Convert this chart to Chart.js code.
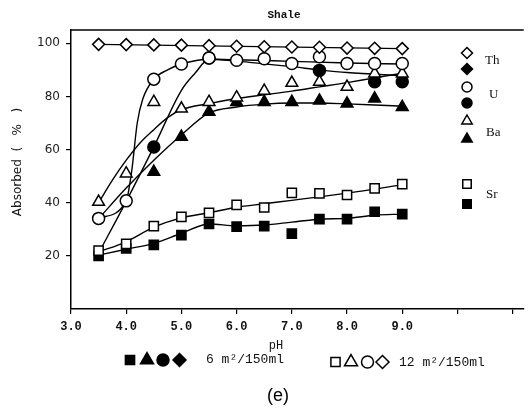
<!DOCTYPE html>
<html>
<head>
<meta charset="utf-8">
<script src="https://cdn.jsdelivr.net/npm/chart.js@4/dist/chart.umd.min.js"></script>
<style>
  html,body{margin:0;padding:0;background:#fff;}
  #wrap{position:relative;width:532px;height:408px;}
</style>
</head>
<body>
<div id="wrap"><canvas id="c" width="532" height="408"></canvas></div>
<script>
// ---- data ----
const pH = [3.5, 4.0, 4.5, 5.0, 5.5, 6.0, 6.5, 7.0, 7.5, 8.0, 8.5, 9.0];
const xTicks = [3, 4, 5, 6, 7, 8, 9, 10, 11];
const yTicks = [20, 40, 60, 80, 100];

// 12 m2/150ml (open symbols)
const Th12 = [99.6, 99.5, 99.4, 99.3, 99.1, 98.9, 98.7, 98.6, 98.5, 98.2, 98.1, 98.0];
const U12  = [34.1, 40.7, 86.5, 92.2, 94.5, 93.6, 94.2, 92.4, 94.9, 92.4, 92.4, 92.4];
const Ba12 = [40.3, 51.0, 77.9, 75.4, 77.9, 79.6, 82.1, 85.1, 85.5, 83.6, 88.6, 88.6];
const Sr12 = [22.0, 24.5, 31.2, 34.7, 36.2, 39.2, 38.2, 43.7, 43.5, 42.9, 45.4, 47.0];
// 6 m2/150ml (filled symbols)
const U6   = [null, null, 61.0, null, 94.5, null, null, null, 89.8, null, 85.5, 85.5];
const Ba6  = [null, null, 51.6, 64.8, 74.2, 77.9, 77.9, 77.9, 78.4, 77.3, 79.2, 76.0];
const Sr6  = [20.0, 22.8, 24.1, 27.8, 32.0, 31.0, 31.2, 28.4, 33.8, 33.8, 36.6, 35.7];

// fitted curves
const fitTh12_pH = [3.5, 9.0];
const fitTh12    = [99.6, 98.0];
const fitU12_pH  = [3.5, 4.0, 4.1, 4.2, 4.3, 4.5, 4.75, 5.0, 5.5, 6.0, 7.0, 8.0, 9.0];
const fitU12     = [34.1, 40.7, 52, 70, 79, 86.5, 90, 92.2, 94, 93.8, 93.2, 92.6, 92.2];
const fitU6_pH   = [3.5, 4.0, 4.5, 5.0, 5.25, 5.5, 6.0, 7.0, 7.5, 8.0, 9.0];
const fitU6      = [21, 40.5, 61, 82.3, 88.8, 94, 93.3, 91.2, 90, 89, 87.8];
const fitBa12_pH = [3.5, 3.75, 4.0, 4.25, 4.5, 4.75, 5.0, 5.5, 6.0, 6.5, 7.0, 7.5, 8.0, 8.5, 9.0];
const fitBa12    = [40, 48.5, 56, 62.5, 67.5, 72, 75, 77.3, 79.2, 80.6, 82, 83.6, 85.2, 87, 88.7];
const fitBa6_pH  = [3.5, 4.0, 4.5, 5.0, 5.5, 6.0, 6.5, 7.0, 7.5, 8.0, 8.5, 9.0];
const fitBa6     = [34, 45.5, 56, 65.5, 73.8, 76, 77.1, 77.5, 77.5, 77.2, 76.8, 76.3];
const fitSr12_pH = pH;
const fitSr12    = [21.5, 25.3, 30.8, 34.3, 36.2, 38.3, 39.6, 40.9, 42.2, 43.6, 45.1, 46.8];
const fitSr6_pH  = pH;
const fitSr6     = [20.3, 22.5, 24.7, 28.5, 32.0, 31.3, 31.6, 32.7, 33.8, 34.1, 35.3, 35.7];

// ---- helpers ----
const xy = (xs, ys) => xs.map((x, i) => ({x: x, y: ys[i]}));

function pts(values, style, radius, filled) {
  return {
    data: xy(pH, values), showLine: false, pointStyle: style, pointRadius: radius,
    pointBorderWidth: 1.5, pointBorderColor: '#000',
    pointBackgroundColor: filled ? '#000' : '#fff',
    borderColor: '#000', order: filled ? 2 : 1
  };
}
function fit(xs, ys) {
  return {
    data: xy(xs, ys), showLine: true, pointRadius: 0, borderColor: '#000',
    borderWidth: 1.4, fill: false, cubicInterpolationMode: 'monotone', order: 3
  };
}

function mark(ctx, style, x, y, r, filled) {
  ctx.save();
  ctx.beginPath();
  if (style === 'circle') {
    ctx.arc(x, y, r, 0, Math.PI * 2);
  } else if (style === 'triangle') {
    ctx.moveTo(x, y - r);
    ctx.lineTo(x + r * 0.866, y + r * 0.5);
    ctx.lineTo(x - r * 0.866, y + r * 0.5);
    ctx.closePath();
  } else if (style === 'rect') {
    const s = r * Math.SQRT1_2;
    ctx.rect(x - s, y - s, 2 * s, 2 * s);
  } else if (style === 'rectRot') {
    ctx.moveTo(x, y - r); ctx.lineTo(x + r, y); ctx.lineTo(x, y + r); ctx.lineTo(x - r, y);
    ctx.closePath();
  }
  ctx.fillStyle = filled ? '#000' : '#fff';
  ctx.fill();
  ctx.lineWidth = 1.5;
  ctx.strokeStyle = '#000';
  ctx.stroke();
  ctx.restore();
}

const annotate = {
  id: 'annotate',
  afterDraw(chart) {
    const ctx = chart.ctx;
    const a = chart.chartArea;
    ctx.save();
    // top frame line
    ctx.strokeStyle = '#000'; ctx.lineWidth = 1.5;
    ctx.beginPath(); ctx.moveTo(a.left, a.top); ctx.lineTo(a.right, a.top); ctx.stroke();

    ctx.fillStyle = '#111';
    ctx.textBaseline = 'middle';
    // title
    ctx.font = 'bold 11px "Liberation Mono"'; ctx.textAlign = 'center';
    ctx.fillText('Shale', 284, 15);
    // axis titles
    ctx.font = '12px "Liberation Mono"';
    ctx.fillText('pH', 276, 346);
    ctx.save();
    ctx.translate(18, 162); ctx.rotate(-Math.PI / 2);
    ctx.font = '12px "DejaVu Sans"';
    ctx.fillText('Absorbed  (   %   )', 0, 0);
    ctx.restore();
    // (e)
    ctx.font = '18px "Liberation Sans"'; ctx.fillStyle = '#000';
    ctx.fillText('(e)', 278, 396);

    // right legend
    const rl = [
      ['rectRot', 53, 5.5, false], ['rectRot', 69, 5.5, true],
      ['circle', 87, 5, false], ['circle', 103, 5, true],
      ['triangle', 121, 6, false], ['triangle', 139, 6, true],
      ['rect', 184, 6, false], ['rect', 204, 6, true]
    ];
    rl.forEach(m => mark(ctx, m[0], 467, m[1], m[2], m[3]));
    ctx.font = '13px "Liberation Serif"'; ctx.textAlign = 'left'; ctx.fillStyle = '#111';
    ctx.fillText('Th', 485, 61);
    ctx.fillText('U', 489, 95);
    ctx.fillText('Ba', 486, 133);
    ctx.fillText('Sr', 486, 195);

    // bottom legend
    const bf = [['rect', 130, 6.5], ['triangle', 147, 7.5], ['circle', 163, 6], ['rectRot', 179.5, 6.5]];
    bf.forEach(m => mark(ctx, m[0], m[1], 360, m[2], true));
    const bo = [['rect', 335.5, 6.5], ['triangle', 351, 7.5], ['circle', 367.5, 6], ['rectRot', 382.5, 6.5]];
    bo.forEach(m => mark(ctx, m[0], m[1], 362, m[2], false));
    ctx.font = '13px "Liberation Mono"'; ctx.fillStyle = '#111'; ctx.textAlign = 'left';
    ctx.fillText('6 m²/150ml', 206, 360);
    ctx.fillText('12 m²/150ml', 399, 363);
    ctx.restore();
  }
};

new Chart(document.getElementById('c'), {
  type: 'scatter',
  data: {
    datasets: [
      pts(Th12, 'rectRot', 6, false),
      pts(U12, 'circle', 6, false),
      pts(Ba12, 'triangle', 6.8, false),
      pts(Sr12, 'rect', 6.5, false),
      pts(U6, 'circle', 6, true),
      pts(Ba6, 'triangle', 6.8, true),
      pts(Sr6, 'rect', 6.5, true),
      fit(fitTh12_pH, fitTh12),
      fit(fitU12_pH, fitU12),
      fit(fitU6_pH, fitU6),
      fit(fitBa12_pH, fitBa12),
      fit(fitBa6_pH, fitBa6),
      fit(fitSr12_pH, fitSr12),
      fit(fitSr6_pH, fitSr6)
    ]
  },
  options: {
    responsive: false,
    animation: false,
    layout: {padding: {left: 0, right: 0, top: 30, bottom: 59}},
    plugins: {legend: {display: false}, tooltip: {enabled: false}, title: {display: false}},
    scales: {
      x: {
        type: 'linear', min: 3, max: 11.2,
        afterBuildTicks: s => { s.ticks = xTicks.map(v => ({value: v})); },
        afterFit: s => { s.height = 40; },
        border: {display: true, color: '#000', width: 1.5},
        grid: {display: true, drawOnChartArea: false, drawTicks: true, tickLength: 5, color: '#000', lineWidth: 1.2},
        ticks: {
          callback: v => (v <= 9 ? v.toFixed(1) : ''),
          font: {family: '"Liberation Mono"', size: 12, weight: 'bold'},
          color: '#111', padding: 6, maxRotation: 0, autoSkip: false
        }
      },
      y: {
        type: 'linear', min: 0, max: 105,
        afterBuildTicks: s => { s.ticks = yTicks.map(v => ({value: v})); },
        afterFit: s => { s.width = 71; },
        border: {display: true, color: '#000', width: 1.5},
        grid: {display: true, drawOnChartArea: false, drawTicks: true, tickLength: 5, color: '#000', lineWidth: 1.2},
        ticks: {
          font: {family: '"DejaVu Sans"', size: 12},
          color: '#222', padding: 6
        }
      }
    }
  },
  plugins: [annotate]
});
</script>
</body>
</html>
